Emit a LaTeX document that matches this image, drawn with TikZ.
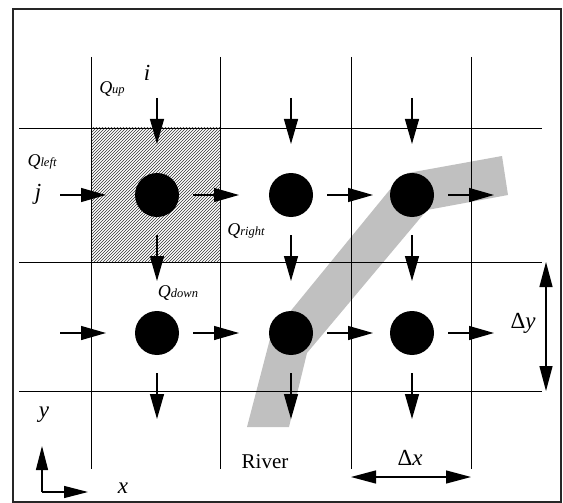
\documentclass[tikz,border=0pt]{standalone}
\usepackage{fontspec}
\setmainfont{Liberation Serif}
\usetikzlibrary{arrows.meta,positioning,patterns,calc}
\definecolor{rivergray}{HTML}{C0C0C0}
\tikzset{
  gridline/.style={line width=0.8pt, draw=black},
  cellnode/.style={circle, fill=black, minimum size=44pt, inner sep=0pt},
  flow/.style={line width=1.3pt, -{Triangle[length=25pt,width=14pt]}},
  dimline/.style={line width=1.3pt, {Triangle[length=25pt,width=13pt]}-{Triangle[length=25pt,width=13pt]}},
  axisline/.style={line width=1.3pt, -{Triangle[length=24pt,width=12pt]}},
  lbl/.style={font=\fontsize{23}{23}\selectfont\itshape, inner sep=0pt},
  qlbl/.style={font=\fontsize{18}{18}\selectfont\itshape, inner sep=0pt},
}
\newcommand{\qsub}[1]{Q{\fontsize{12.5}{12.5}\selectfont #1}}

\begin{document}
\begin{tikzpicture}[x=1pt,y=-1pt]
  \useasboundingbox (0,0) rectangle (563,503);
  \draw[line width=1.6pt, black!85] (13,9) rectangle (561,502);
  \fill[rivergray] (408,173) -- (502,156) -- (508,195) -- (427,210) -- (307,353) -- (289,427)
    -- (247,427) -- (271,335) -- (392,187) -- cycle;
  \fill[pattern=north east lines, pattern color=black!80] (91,128) rectangle (220,262);
  \foreach \gx in {91,220,351,471} \draw[gridline] (\gx,57) -- (\gx,469);
  \foreach \gy in {128,262,391} \draw[gridline] (19,\gy) -- (542,\gy);

  \node[cellnode] (c11) at (157,195) {};
  \node[cellnode] (c12) at (291,195) {};
  \node[cellnode] (c13) at (412,195) {};
  \node[cellnode] (c21) at (157,333) {};
  \node[cellnode] (c22) at (291,333) {};
  \node[cellnode] (c23) at (412,333) {};

  \foreach \r in {1,2} \foreach \c in {1,2,3} {
    \draw[flow] ($(c\r\c)+(36,0)$) -- ($(c\r\c)+(82,0)$);
    \draw[flow] ($(c\r\c)+(0,40)$) -- ($(c\r\c)+(0,86)$);
  }
  \foreach \c in {1,2,3} \draw[flow] ($(c1\c)+(0,-97)$) -- ($(c1\c)+(0,-51)$);
  \foreach \r in {1,2} \draw[flow] ($(c\r1)+(-97,0)$) -- ($(c\r1)+(-51,0)$);

  \coordinate (dytop) at (546,262);
  \coordinate (dybot) at (546,391);
  \coordinate (dxleft) at (351,477);
  \coordinate (dxright) at (471,477);
  \draw[dimline] (dytop) -- (dybot);
  \draw[dimline] (dxleft) -- (dxright);

  \coordinate (origin) at (42,492);
  \coordinate (yend) at (42,446);
  \coordinate (xend) at (88,492);
  \draw[axisline] (origin) -- (yend);
  \draw[axisline] (origin) -- (xend);

  \node[lbl] (ilbl) at (147,73) {i};
  \node[lbl] (jlbl) at (38,194) {j};
  \node[lbl] (ylbl) at (44,415) {y};
  \node[lbl] (xlbl) at (123,488) {x};
  \node[lbl] (dxlbl) at (410,458) {{\upshape Δ}x};
  \node[lbl] (dylbl) at (523,323) {{\upshape Δ}y};
  \node[qlbl] (qup) at (112,89) {\qsub{up}};
  \node[qlbl] (qleft) at (42,162) {\qsub{left}};
  \node[qlbl] (qright) at (246,231) {\qsub{right}};
  \node[qlbl] (qdown) at (178,293) {\qsub{down}};
  \node[font=\fontsize{21}{21}\selectfont, inner sep=0pt] (river) at (265,462) {River};
\end{tikzpicture}
\end{document}
